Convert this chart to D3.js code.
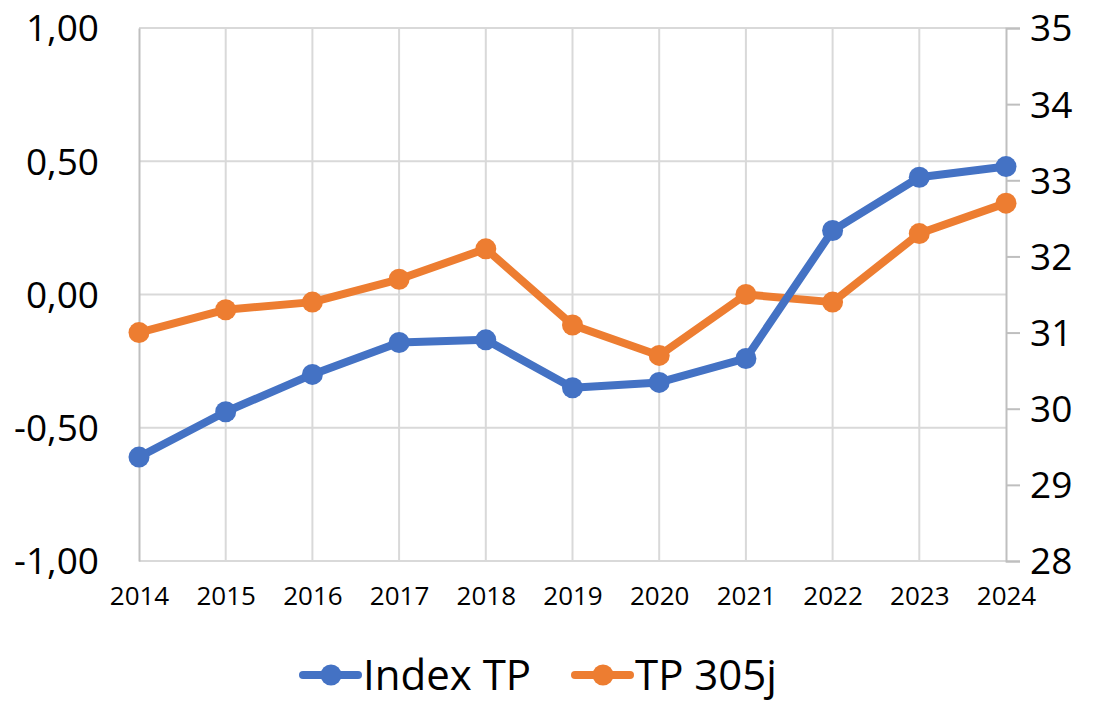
<!DOCTYPE html>
<html>
<head>
<meta charset="utf-8">
<script src="https://cdn.jsdelivr.net/npm/d3@7"></script>
<style>
  body { margin: 0; background: #fff; }
  text { font-family: "Open Sans", sans-serif; fill: #000; }
</style>
</head>
<body>
<div id="chart"></div>
<script>
// values
let years = [2014, 2015, 2016, 2017, 2018, 2019, 2020, 2021, 2022, 2023, 2024];
let indexTP = [-0.61, -0.44, -0.30, -0.18, -0.17, -0.35, -0.33, -0.24, 0.24, 0.44, 0.48];
let tp305j = [31.0, 31.3, 31.4, 31.7, 32.1, 31.1, 30.7, 31.5, 31.4, 32.3, 32.7];
let leftTicks = [-1, -0.5, 0, 0.5, 1];
let rightTicks = [28, 29, 30, 31, 32, 33, 34, 35];

let svgWidth = 1098;
let svgHeight = 702;

let margin = { top: 28, right: 92, bottom: 141, left: 139 };
let width = svgWidth - margin.left - margin.right;
let height = svgHeight - margin.top - margin.bottom;

let svg = d3.select("#chart")
  .append("svg")
  .attr("width", svgWidth)
  .attr("height", svgHeight);

let chartGroup = svg.append("g")
  .attr("transform", `translate(${margin.left}, ${margin.top})`);

let xScale = d3.scalePoint()
  .domain(years)
  .range([0, width]);

let yLeft = d3.scaleLinear().domain([-1, 1]).range([height, 0]);
let yRight = d3.scaleLinear().domain([28, 35]).range([height, 0]);

// comma decimals and a plain hyphen for minus, like the original
let fmt = d => d.toFixed(2).replace(".", ",");

// horizontal gridlines
chartGroup.append("g")
  .selectAll("line")
  .data(leftTicks)
  .enter()
  .append("line")
  .attr("x1", 0)
  .attr("x2", width)
  .attr("y1", d => yLeft(d))
  .attr("y2", d => yLeft(d))
  .attr("stroke", "#d9d9d9")
  .attr("stroke-width", 2);

// vertical gridlines
chartGroup.append("g")
  .selectAll("line")
  .data(years.slice(1, -1))
  .enter()
  .append("line")
  .attr("x1", d => xScale(d))
  .attr("x2", d => xScale(d))
  .attr("y1", 0)
  .attr("y2", height)
  .attr("stroke", "#d9d9d9")
  .attr("stroke-width", 2);

// left axis
let leftAxis = d3.axisLeft(yLeft).tickValues(leftTicks).tickSize(0).tickPadding(40).tickFormat(fmt);
let gLeft = chartGroup.append("g").call(leftAxis);
gLeft.select(".domain").attr("stroke", "#bfbfbf").attr("stroke-width", 2);
gLeft.selectAll("text").style("font-size", "37px").attr("dy", "0.35em");

// right axis
let rightAxis = d3.axisRight(yRight).tickValues(rightTicks).tickSize(14).tickPadding(10).tickFormat(d3.format("d"));
let gRight = chartGroup.append("g")
  .attr("transform", `translate(${width}, 0)`)
  .call(rightAxis);
gRight.select(".domain").attr("stroke", "#bfbfbf").attr("stroke-width", 2);
gRight.selectAll(".tick line").attr("stroke", "#bfbfbf").attr("stroke-width", 2);
gRight.selectAll("text").style("font-size", "37px").attr("dy", "0.35em");

// bottom axis
let bottomAxis = d3.axisBottom(xScale).tickSize(0).tickPadding(44);
let gBottom = chartGroup.append("g")
  .attr("transform", `translate(0, ${height})`)
  .call(bottomAxis);
gBottom.select(".domain").remove();
gBottom.selectAll("text").style("font-size", "26px").attr("dy", "0");

let blue = "#4472c4";
let orange = "#ed7d31";

let indexLine = d3.line()
  .x((d, i) => xScale(years[i]))
  .y(d => yLeft(d));

let tpLine = d3.line()
  .x((d, i) => xScale(years[i]))
  .y(d => yRight(d));

chartGroup.append("path")
  .datum(tp305j)
  .attr("d", tpLine)
  .attr("fill", "none")
  .attr("stroke", orange)
  .attr("stroke-width", 8)
  .attr("stroke-linejoin", "round");

chartGroup.selectAll(".tpDot")
  .data(tp305j)
  .enter()
  .append("circle")
  .classed("tpDot", true)
  .attr("cx", (d, i) => xScale(years[i]))
  .attr("cy", d => yRight(d))
  .attr("r", 10.5)
  .attr("fill", orange);

chartGroup.append("path")
  .datum(indexTP)
  .attr("d", indexLine)
  .attr("fill", "none")
  .attr("stroke", blue)
  .attr("stroke-width", 8)
  .attr("stroke-linejoin", "round");

chartGroup.selectAll(".idxDot")
  .data(indexTP)
  .enter()
  .append("circle")
  .classed("idxDot", true)
  .attr("cx", (d, i) => xScale(years[i]))
  .attr("cy", d => yLeft(d))
  .attr("r", 10.5)
  .attr("fill", blue);

// legend
let legendItems = [
  { name: "Index TP", color: blue, x: 303 },
  { name: "TP 305j", color: orange, x: 575 }
];

let legend = svg.append("g");
legendItems.forEach(item => {
  let g = legend.append("g").attr("transform", `translate(${item.x}, 675)`);
  g.append("line")
    .attr("x1", 0).attr("x2", 55)
    .attr("y1", 0).attr("y2", 0)
    .attr("stroke", item.color)
    .attr("stroke-width", 8)
    .attr("stroke-linecap", "round");
  g.append("circle")
    .attr("cx", 28).attr("cy", 0).attr("r", 10.5)
    .attr("fill", item.color);
  g.append("text")
    .attr("x", 60)
    .attr("y", 0)
    .attr("dy", "0.35em")
    .style("font-size", "42px")
    .text(item.name);
});
</script>
</body>
</html>
